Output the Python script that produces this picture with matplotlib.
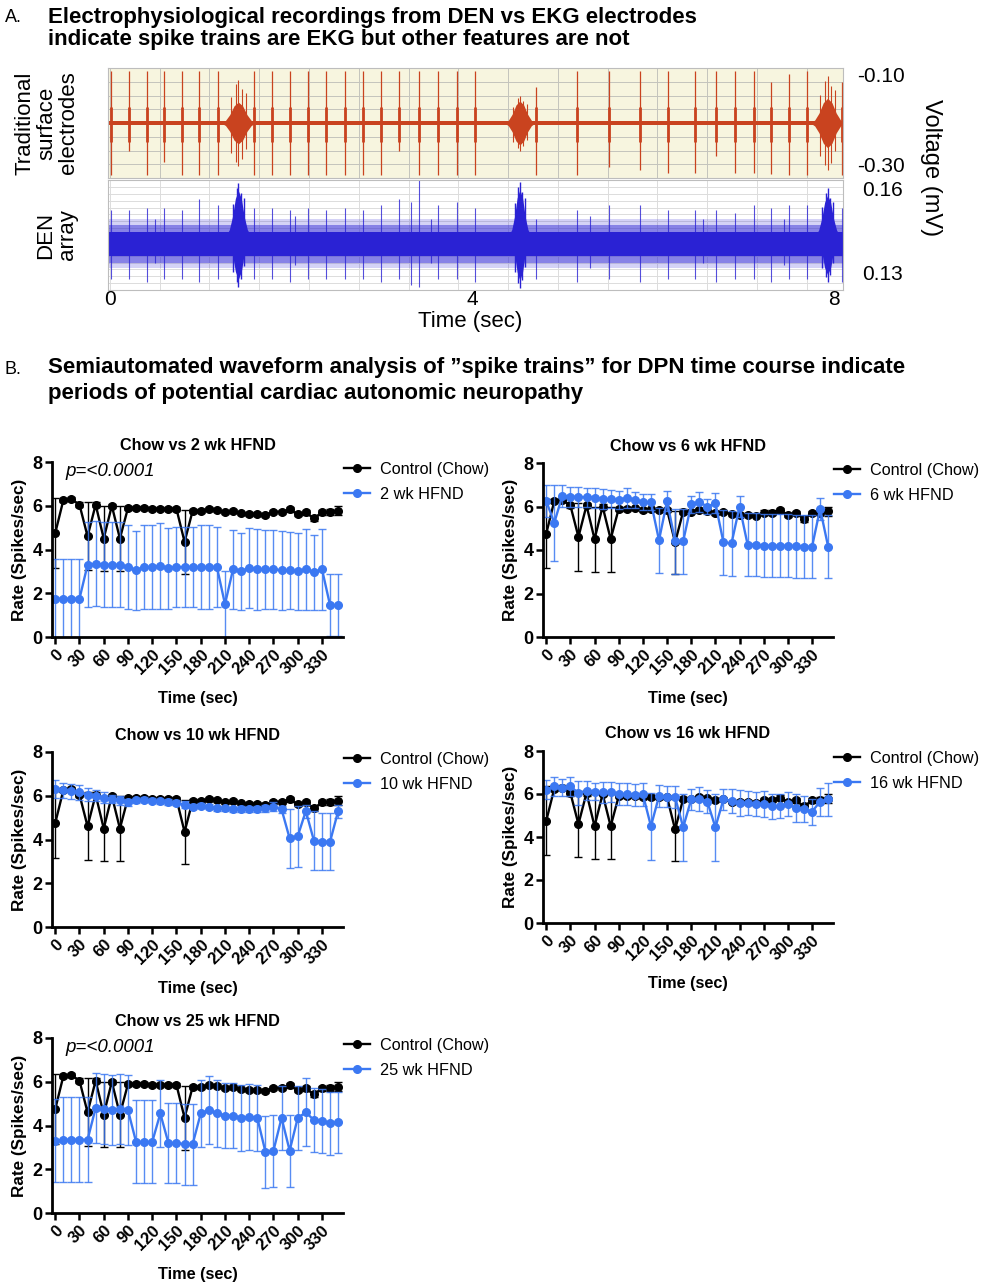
import numpy as np
import matplotlib
matplotlib.use("Agg")
import matplotlib.pyplot as plt

plt.rcParams['font.family'] = ['Liberation Sans', 'DejaVu Sans']

W, H = 982, 1285
RED = '#c9431f'
DBLUE = '#2a22d4'
BLUE = '#3b78f2'

# ---------------- panel A: recordings (times in sec, amplitudes in panel units) -------------
BEAT_T = [0.01, 0.21, 0.41, 0.60, 0.80, 0.99, 1.19, 1.59, 1.79, 1.99, 2.19, 2.39, 2.60,
          2.80, 3.00, 3.20, 3.42, 3.63, 3.84, 4.03, 4.71, 5.16, 5.52, 5.86, 6.17, 6.47,
          6.70, 6.91, 7.12, 7.31, 7.50, 7.70, 8.09]
RED_TOP = [0.95, 0.95, 0.95, 0.95, 0.95, 0.95, 0.95, 0.95, 0.95, 0.95, 0.95, 0.95, 0.95,
           0.95, 0.95, 0.95, 0.95, 0.95, 0.95, 0.95, 0.65, 0.95, 0.95, 0.95, 0.95, 0.95,
           0.95, 0.95, 0.95, 0.75, 0.9, 0.95, 0.75]
RED_BOT = [-0.95, -0.5, -0.95, -0.7, -0.95, -0.95, -0.95, -0.95, -0.95, -0.95, -0.95, -0.95,
           -0.95, -0.95, -0.95, -0.5, -0.95, -0.95, -0.95, -0.95, -0.95, -0.95, -0.8, -0.85,
           -0.9, -0.9, -0.6, -0.9, -0.9, -0.92, -0.95, -0.95, -0.95]
BLUE_TOP = [0.45, 0.45, 0.5, 0.5, 0.45, 0.65, 0.55, 0.5, 0.5, 0.45, 0.5, 0.45, 0.5,
            0.45, 0.55, 0.65, 1.0, 0.55, 0.6, 0.5, 0.3, 0.45, 0.55, 0.55, 0.45, 0.45,
            0.45, 0.4, 0.55, 0.5, 0.55, 0.55, 0.5]
BLUE_BOT = [-0.8, -0.8, -0.85, -0.8, -0.8, -0.85, -0.8, -0.8, -0.8, -0.85, -0.8, -0.8, -0.8,
            -0.8, -0.85, -0.8, -0.95, -0.8, -0.8, -0.85, -0.8, -0.85, -0.8, -0.85, -0.8, -0.8,
            -0.85, -0.8, -0.8, -0.85, -0.8, -0.8, -0.85]
EXTRA_T = [0.5, 2.05, 3.33, 3.55, 5.30, 6.55, 7.45]
EXTRA_TOP = [0.3, 0.35, 0.6, 0.3, 0.35, 0.3, 0.3]
EXTRA_BOT = [-0.5, -0.55, -0.9, -0.5, -0.6, -0.5, -0.55]
BURST_T = [1.42, 4.53, 7.93]
BURST_HW = [0.19, 0.17, 0.19]
RED_BURST_CORE = [0.38, 0.4, 0.45]
RED_BURST_PEAK = [0.78, 0.5, 0.85]
BLUE_BURST_PEAK = [0.95, 0.97, 0.85]
ENV_X = [-1.0, -0.75, -0.5, -0.25, 0.0, 0.25, 0.5, 0.75, 1.0]
ENV_Y = [0.0, 0.12, 0.4, 0.82, 1.0, 0.82, 0.4, 0.12, 0.0]

# ---------------- panel B: spike-train rates ----------------
TIME = list(range(0, 360, 10))
XTICKS = list(range(0, 331, 30))
CTRL_MEAN = [4.75, 6.25, 6.3, 6.05, 4.6, 6.05, 4.5, 6.0, 4.5, 5.9, 5.9, 5.92, 5.85, 5.87,
             5.85, 5.85, 4.35, 5.77, 5.77, 5.85, 5.8, 5.7, 5.75, 5.65, 5.62, 5.62, 5.58,
             5.72, 5.72, 5.83, 5.62, 5.7, 5.42, 5.7, 5.72, 5.78]
CTRL_SD = [1.6, 0.1, 0.1, 0.12, 1.55, 0.12, 1.5, 0.1, 1.5, 0.1, 0.1, 0.08, 0.1, 0.08, 0.08,
           0.08, 1.45, 0.1, 0.08, 0.1, 0.08, 0.08, 0.08, 0.08, 0.08, 0.08, 0.08, 0.1, 0.1,
           0.12, 0.1, 0.1, 0.12, 0.1, 0.12, 0.22]
WK2_MEAN = [1.75, 1.75, 1.75, 1.75, 3.3, 3.35, 3.3, 3.3, 3.3, 3.2, 3.05, 3.2, 3.2, 3.25,
            3.15, 3.2, 3.2, 3.2, 3.2, 3.2, 3.2, 1.5, 3.1, 3.0, 3.15, 3.1, 3.1, 3.1, 3.05,
            3.05, 3.0, 3.1, 2.95, 3.1, 1.45, 1.45]
WK2_SD = [1.8, 1.8, 1.8, 1.8, 1.95, 1.95, 1.95, 1.95, 1.95, 1.9, 1.8, 1.9, 1.9, 1.95, 1.85,
          1.85, 1.85, 1.85, 1.9, 1.9, 1.85, 1.5, 1.8, 1.75, 1.82, 1.85, 1.8, 1.8, 1.8, 1.75,
          1.75, 1.85, 1.7, 1.85, 1.42, 1.42]
WK6_MEAN = [6.25, 5.25, 6.5, 6.45, 6.45, 6.42, 6.4, 6.35, 6.33, 6.3, 6.4, 6.3, 6.2, 6.2,
            4.45, 6.25, 4.4, 4.4, 6.1, 6.2, 6.0, 6.15, 4.35, 4.3, 6.0, 4.25, 4.25, 4.2,
            4.2, 4.2, 4.2, 4.18, 4.15, 4.15, 5.9, 4.15]
WK6_SD = [0.75, 1.75, 0.5, 0.45, 0.45, 0.45, 0.45, 0.45, 0.42, 0.42, 0.45, 0.38, 0.38,
          0.38, 1.5, 0.45, 1.5, 1.5, 0.4, 0.45, 0.35, 0.45, 1.5, 1.5, 0.5, 1.45, 1.45, 1.45,
          1.45, 1.45, 1.45, 1.45, 1.45, 1.45, 0.5, 1.45]
WK10_MEAN = [6.3, 6.25, 6.2, 6.15, 6.05, 6.0, 5.9, 5.85, 5.8, 5.7, 5.8, 5.82, 5.78, 5.75,
             5.72, 5.68, 5.6, 5.5, 5.55, 5.5, 5.42, 5.42, 5.38, 5.4, 5.38, 5.4, 5.42, 5.5,
             5.38, 4.05, 4.15, 5.3, 3.95, 3.9, 3.9, 5.3]
WK10_SD = [0.4, 0.35, 0.35, 0.35, 0.3, 0.25, 0.25, 0.2, 0.2, 0.15, 0.12, 0.12, 0.12, 0.12,
           0.12, 0.12, 0.15, 0.12, 0.12, 0.12, 0.1, 0.1, 0.12, 0.12, 0.12, 0.12, 0.15, 0.2,
           0.15, 1.35, 1.4, 0.3, 1.35, 1.3, 1.3, 0.3]
WK16_MEAN = [6.2, 6.35, 6.3, 6.35, 6.05, 6.15, 6.1, 6.08, 6.1, 6.0, 6.0, 5.95, 5.98, 4.5,
             5.9, 5.88, 5.85, 4.45, 5.75, 5.78, 5.65, 4.45, 5.75, 5.68, 5.6, 5.58, 5.55,
             5.55, 5.42, 5.45, 5.55, 5.35, 5.3, 5.18, 5.65, 5.75]
WK16_SD = [0.45, 0.45, 0.4, 0.45, 0.55, 0.45, 0.4, 0.5, 0.45, 0.5, 0.5, 0.5, 0.55, 1.55,
           0.5, 0.5, 0.5, 1.55, 0.5, 0.55, 0.55, 1.55, 0.5, 0.55, 0.6, 0.55, 0.55, 0.6,
           0.6, 0.55, 0.55, 0.65, 0.6, 0.6, 0.65, 0.75]
WK25_MEAN = [3.3, 3.35, 3.35, 3.35, 3.35, 4.8, 4.75, 4.72, 4.75, 4.7, 3.25, 3.25, 3.25,
             4.55, 3.2, 3.2, 3.15, 3.15, 4.55, 4.7, 4.55, 4.45, 4.45, 4.35, 4.4, 4.35, 2.8,
             2.85, 4.35, 2.85, 4.35, 4.6, 4.25, 4.2, 4.1, 4.15]
WK25_SD = [1.9, 1.95, 1.95, 1.95, 1.95, 1.6, 1.6, 1.6, 1.6, 1.6, 1.9, 1.9, 1.9, 1.55, 1.85,
           1.85, 1.85, 1.85, 1.55, 1.55, 1.55, 1.5, 1.5, 1.5, 1.5, 1.5, 1.65, 1.65, 1.45,
           1.65, 1.45, 1.55, 1.45, 1.45, 1.45, 1.4]


def rect(x0, y0, x1, y1):
    # pixel box -> figure fraction
    return [x0 / W, 1 - y1 / H, (x1 - x0) / W, (y1 - y0) / H]


def draw_burst(ax, c, hw, amp, color, lw_peak=0.8, peak=None):
    xs = [c + e * hw for e in ENV_X]
    ys = [amp * e for e in ENV_Y]
    ax.fill_between(xs, [-y for y in ys], ys, color=color, lw=0)
    if peak is not None:
        ax.vlines([c - 0.45 * hw, c - 0.15 * hw, c, c + 0.2 * hw, c + 0.45 * hw],
                  [-0.7 * peak, -0.9 * peak, -peak, -0.85 * peak, -0.6 * peak],
                  [0.6 * peak, 0.9 * peak, peak, 0.8 * peak, 0.7 * peak],
                  color=color, lw=lw_peak)


fig = plt.figure(figsize=(W / 100, H / 100), dpi=100)

fig.text(5 / W, 1 - 18 / H, 'A.', fontsize=13, va='center')
fig.text(48 / W, 1 - 17 / H, 'Electrophysiological recordings from DEN vs EKG electrodes',
         fontsize=16, weight='bold', va='center')
fig.text(48 / W, 1 - 39 / H, 'indicate spike trains are EKG but other features are not',
         fontsize=16, weight='bold', va='center')

axR = fig.add_axes(rect(108, 68, 843, 178))
axB = fig.add_axes(rect(108, 180, 843, 290))
for ax, face, ny in ((axR, '#f7f5df', 9), (axB, 'white', 17)):
    ax.set_xlim(-0.02, 8.1)
    ax.set_ylim(-1, 1)
    ax.set_facecolor(face)
    ax.set_axisbelow(True)
    ax.set_yticks(np.linspace(-1, 1, ny))
    ax.set_xticks(np.arange(0, 8.1, 0.55))
    ax.grid(True, color='#c4c4bc' if ax is axR else '#dcdcdc', lw=0.7)
    ax.tick_params(length=0, labelleft=False, labelbottom=False)
    for s in ax.spines.values():
        s.set_color('#bdbdbd')
        s.set_linewidth(0.8)

# EKG-like trace (red)
axR.fill_between([-0.02, 8.1], -0.035, 0.035, color=RED, lw=0)
axR.vlines(BEAT_T, RED_BOT, RED_TOP, color=RED, lw=0.9)
axR.vlines(BEAT_T, -0.35, 0.3, color=RED, lw=2.0)
for c, hw, core, pk in zip(BURST_T, BURST_HW, RED_BURST_CORE, RED_BURST_PEAK):
    draw_burst(axR, c, hw, core, RED, peak=pk)

# DEN array trace (blue)
axB.fill_between([-0.02, 8.1], -0.6, 0.3, color=DBLUE, lw=0, alpha=0.2)
axB.fill_between([-0.02, 8.1], -0.5, 0.18, color=DBLUE, lw=0, alpha=0.45)
axB.fill_between([-0.02, 8.1], -0.38, 0.06, color=DBLUE, lw=0)
axB.vlines(BEAT_T, BLUE_BOT, BLUE_TOP, color=DBLUE, lw=0.8, alpha=0.8)
axB.vlines(EXTRA_T, EXTRA_BOT, EXTRA_TOP, color=DBLUE, lw=0.8, alpha=0.8)
for c, hw, pk in zip(BURST_T, BURST_HW, BLUE_BURST_PEAK):
    draw_burst(axB, c, hw * 0.7, pk * 0.85, DBLUE, lw_peak=1.0, peak=pk)

for x, s in ((110, '0'), (472, '4'), (834, '8')):
    fig.text(x / W, 1 - 299 / H, s, fontsize=15, ha='center', va='center')
fig.text(470 / W, 1 - 322 / H, 'Time (sec)', fontsize=16, ha='center', va='center')
for y, s in ((76, '-0.10'), (167, '-0.30'), (190, '0.16'), (275, '0.13')):
    fig.text(857 / W if s.startswith('-') else 862 / W, 1 - y / H, s, fontsize=15,
             va='center')
fig.text(931 / W, 1 - 168 / H, 'Voltage (mV)', fontsize=17, rotation=270, ha='center',
         va='center')
fig.text(47 / W, 1 - 123 / H, 'Traditional\nsurface\nelectrodes', fontsize=16,
         rotation=90, ha='center', va='center', linespacing=1.05, multialignment='center')
fig.text(57 / W, 1 - 235 / H, 'DEN\narray', fontsize=16, rotation=90, ha='center',
         va='center', linespacing=1.05, multialignment='center')

# ---------------- panel B ----------------
fig.text(5 / W, 1 - 369 / H, 'B.', fontsize=13, va='center')
fig.text(48 / W, 1 - 368 / H,
         'Semiautomated waveform analysis of \u201dspike trains\u201d for DPN time course indicate',
         fontsize=16, weight='bold', va='center')
fig.text(48 / W, 1 - 394 / H, 'periods of potential cardiac autonomic neuropathy',
         fontsize=16, weight='bold', va='center')


def rate_panel(box, mean, sd, label, title, pval=False):
    ax = fig.add_axes(rect(*box))
    ax.errorbar(TIME, CTRL_MEAN, yerr=CTRL_SD, fmt='none', ecolor='black', elinewidth=1.0,
                capsize=3, capthick=1.0)
    ax.plot(TIME, CTRL_MEAN, '-o', color='black', ms=5.5, lw=1.7, label='Control (Chow)')
    ax.errorbar(TIME, mean, yerr=sd, fmt='none', ecolor=BLUE, elinewidth=1.0, capsize=3,
                capthick=1.0, alpha=0.85)
    ax.plot(TIME, mean, '-o', color=BLUE, ms=5.5, lw=1.7, label=label)
    ax.set_xlim(-4, 356)
    ax.set_ylim(0, 8)
    ax.set_xticks(XTICKS)
    ax.set_xticklabels([str(v) for v in XTICKS], rotation=45, ha='right',
                       rotation_mode='anchor', fontsize=12, weight='bold')
    ax.set_yticks([0, 2, 4, 6, 8])
    ax.set_yticklabels(['0', '2', '4', '6', '8'], fontsize=13, weight='bold')
    ax.tick_params(width=1.8, length=5, pad=2)
    for s in ('top', 'right'):
        ax.spines[s].set_visible(False)
    for s in ('left', 'bottom'):
        ax.spines[s].set_linewidth(2.0)
    ax.set_title(title, fontsize=11.7, weight='bold', pad=9)
    ax.set_xlabel('Time (sec)', fontsize=11.7, weight='bold')
    ax.xaxis.set_label_coords(0.5, -0.31)
    ax.set_ylabel('Rate (Spikes/sec)', fontsize=12.3, weight='bold')
    ax.yaxis.set_label_coords(-0.085, 0.5)
    if pval:
        ax.text(0.045, 0.945, 'p=<0.0001', transform=ax.transAxes, fontsize=13.5,
                style='italic', va='center')
    ax.legend(loc='upper left', bbox_to_anchor=(1.003, 1.0), frameon=False, fontsize=11.7,
              handlelength=1.6, handletextpad=0.6, borderaxespad=0, borderpad=0,
              labelspacing=0.6, numpoints=1)
    return ax


rate_panel((52, 462, 343, 637), WK2_MEAN, WK2_SD, '2 wk HFND', 'Chow vs 2 wk HFND', True)
rate_panel((543, 463, 833, 637), WK6_MEAN, WK6_SD, '6 wk HFND', 'Chow vs 6 wk HFND')
rate_panel((52, 752, 343, 927), WK10_MEAN, WK10_SD, '10 wk HFND', 'Chow vs 10 wk HFND')
rate_panel((543, 751, 833, 923), WK16_MEAN, WK16_SD, '16 wk HFND', 'Chow vs 16 wk HFND')
rate_panel((52, 1038, 343, 1213), WK25_MEAN, WK25_SD, '25 wk HFND', 'Chow vs 25 wk HFND', True)

fig.savefig('out.png', dpi=100)
